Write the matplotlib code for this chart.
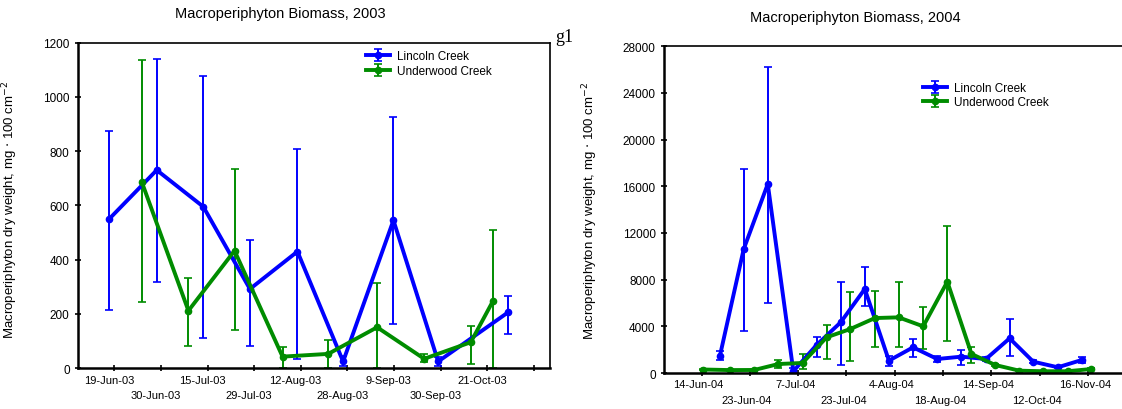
import numpy as np
import matplotlib
matplotlib.use("Agg")
import matplotlib.pyplot as plt
from matplotlib.transforms import ScaledTranslation

plt.rcParams['font.family'] = ['Liberation Sans', 'DejaVu Sans']

# 2003 - positions are in units of x-tick spacing
x03_lincoln = [-0.11, 0.91, 1.91, 2.91, 3.93, 4.91, 5.99, 6.95, 8.45]
y03_lincoln = [550, 730, 595, 292, 430, 25, 545, 25, 206]
hi03_lincoln = [873, 1140, 1075, 474, 807, 45, 926, 40, 268]
lo03_lincoln = [215, 319, 110, 81, 35, 10, 163, 10, 126]

x03_under = [0.59, 1.59, 2.58, 3.61, 4.59, 5.64, 6.65, 7.65, 8.13]
y03_under = [686, 212, 433, 43, 53, 151, 35, 96, 249]
hi03_under = [1135, 331, 733, 77, 104, 313, 52, 155, 510]
lo03_under = [245, 81, 141, 0, 0, 0, 22, 16, 0]

labels03 = ['19-Jun-03', '30-Jun-03', '15-Jul-03', '29-Jul-03', '12-Aug-03',
            '28-Aug-03', '9-Sep-03', '30-Sep-03', '21-Oct-03', '']

# 2004
x04_lincoln = [0.38, 0.87, 1.37, 1.90, 2.38, 2.88, 3.38, 3.88, 4.38, 4.88,
               5.38, 5.89, 6.38, 6.87, 7.38, 7.87]
y04_lincoln = [1500, 10600, 16200, 150, 2400, 4340, 7200, 1060, 2200, 1200,
               1400, 1200, 2970, 970, 490, 1110]
hi04_lincoln = [1900, 17500, 26200, 400, 3060, 7770, 9060, 1490, 2910, 1500,
                2000, 1400, 4630, 1100, 600, 1340]
lo04_lincoln = [1100, 3600, 6000, 0, 1340, 690, 5710, 630, 1340, 950,
                690, 1000, 1430, 850, 400, 860]

x04_under = [0.02, 0.59, 1.09, 1.59, 2.09, 2.59, 3.08, 3.59, 4.08, 4.59,
             5.09, 5.59, 6.08, 6.58, 7.08, 7.58, 8.07]
y04_under = [300, 250, 260, 770, 860, 3060, 3770, 4710, 4770, 4000,
             7830, 1630, 690, 200, 150, 150, 340]
hi04_under = [350, 300, 320, 1140, 1630, 4110, 6910, 7060, 7770, 5630,
              12570, 2200, 800, 250, 200, 200, 450]
lo04_under = [250, 200, 200, 400, 340, 1200, 1060, 2260, 2200, 2060,
              2770, 860, 580, 150, 100, 100, 250]

labels04 = ['14-Jun-04', '23-Jun-04', '7-Jul-04', '23-Jul-04', '4-Aug-04',
            '18-Aug-04', '14-Sep-04', '12-Oct-04', '16-Nov-04', '']

BLUE = '#0000ff'
GREEN = '#008c00'
ylab = r'Macroperiphyton dry weight, mg $\cdot$ 100 cm$^{-2}$'

fig = plt.figure(figsize=(11.22, 4.10), dpi=100)


def panel(rect, series, labels, ymax, ystep, title, title_xy, leg_xy, shift):
    ax = fig.add_axes(rect)
    for x, y, hi, lo, col, name in series:
        y = np.array(y)
        err = [y - np.array(lo), np.array(hi) - y]
        ax.errorbar(x, y, yerr=err, color=col, lw=2.8, marker='o', ms=4.5,
                    elinewidth=1.4, capsize=3, capthick=1.2, label=name)
    ax.set_xlim(-0.78, 9.35)
    ax.set_ylim(0, ymax)
    # labels alternate between two rows: even ticks as major, odd as minor
    pos = np.arange(len(labels))
    ax.set_xticks(pos[::2])
    ax.set_xticklabels(labels[::2], fontsize=8)
    ax.set_xticks(pos[1::2], minor=True)
    ax.set_xticklabels(labels[1::2], minor=True, fontsize=8)
    ax.tick_params(axis='x', which='both', direction='inout', length=5, width=1.2)
    ax.tick_params(axis='x', which='major', pad=2)
    ax.tick_params(axis='x', which='minor', pad=13)
    off = ScaledTranslation(shift / 100, 0, fig.dpi_scale_trans)
    for lab in ax.get_xticklabels(which='both'):
        lab.set_transform(lab.get_transform() + off)
    ax.set_yticks(np.arange(0, ymax + 1, ystep))
    ax.tick_params(axis='y', labelsize=8.5, direction='inout', length=5, width=1.2)
    ax.spines['left'].set_linewidth(1.8)
    ax.spines['bottom'].set_linewidth(1.8)
    ax.spines['top'].set_linewidth(1.2)
    ax.spines['right'].set_linewidth(1.2)
    ax.set_ylabel(ylab, fontsize=9.5)
    ax.legend(loc='upper left', bbox_to_anchor=leg_xy, frameon=False,
              fontsize=8.5, handlelength=2.0, handletextpad=0.6,
              labelspacing=0.2, borderaxespad=0)
    fig.text(title_xy[0], title_xy[1], title, fontsize=10.5, ha='center', va='center')
    return ax


ax1 = panel([0.0695, 0.0993, 0.4207, 0.7946],
            [(x03_lincoln, y03_lincoln, hi03_lincoln, lo03_lincoln, BLUE, 'Lincoln Creek'),
             (x03_under, y03_under, hi03_under, lo03_under, GREEN, 'Underwood Creek')],
            labels03, 1200, 200, 'Macroperiphyton Biomass, 2003', (280 / 1122, 1 - 14 / 410),
            (0.60, 0.99), -5)
ax1.yaxis.set_label_coords(-0.123, 0.49)

ax2 = panel([0.5918, 0.0878, 0.4358, 0.7968],
            [(x04_lincoln, y04_lincoln, hi04_lincoln, lo04_lincoln, BLUE, 'Lincoln Creek'),
             (x04_under, y04_under, hi04_under, lo04_under, GREEN, 'Underwood Creek')],
            labels04, 28000, 4000, 'Macroperiphyton Biomass, 2004', (855 / 1122, 1 - 18 / 410),
            (0.52, 0.905), -3)
ax2.yaxis.set_label_coords(-0.131, 0.50)

fig.text(555 / 1122, 1 - 38 / 410, 'g1', fontsize=13, family='Liberation Serif',
         va='center')

fig.savefig('out.png', dpi=100)
